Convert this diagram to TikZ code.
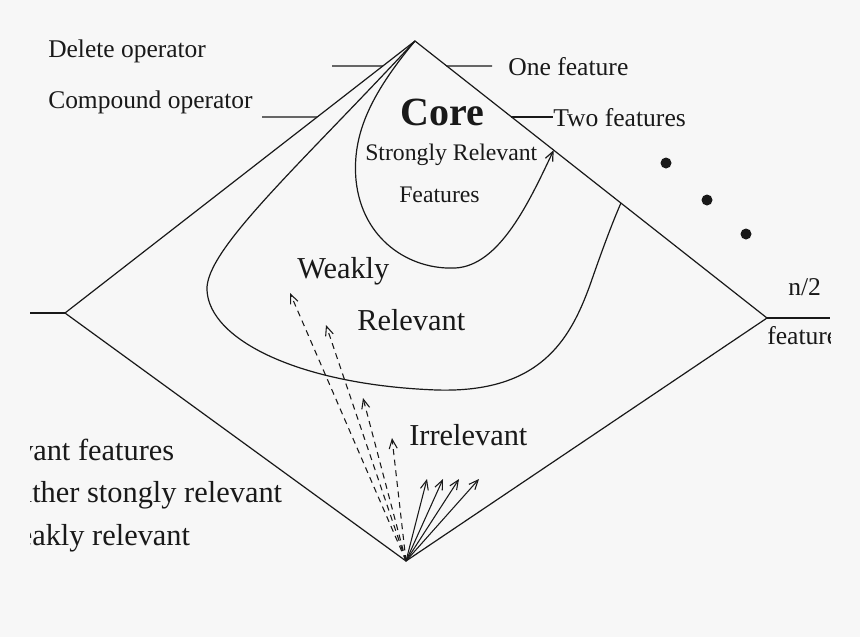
\documentclass[tikz,border=0pt]{standalone}
\usepackage{fontspec}
\setmainfont{Liberation Serif}
\usetikzlibrary{arrows.meta}
\definecolor{paper}{RGB}{247,247,247}
\definecolor{ink}{RGB}{25,25,25}

\begin{document}
\begin{tikzpicture}[x=0.75pt,y=-0.75pt,
  every node/.style={inner sep=0pt,anchor=base west,text=ink},
  edge/.style={draw=ink,line width=0.9pt},
  small/.style={font=\fontsize{19.1}{22}\selectfont},
  srl/.style={font=\fontsize{17.8}{20}\selectfont},
  mid/.style={font=\fontsize{19.2}{22}\selectfont},
  large/.style={font=\fontsize{22.8}{26}\selectfont},
  corelbl/.style={font=\fontsize{30}{33}\selectfont\bfseries},
  tip/.style={-{Straight Barb[length=7pt,width=6pt]}},
  move/.style={edge,tip,line width=0.8pt},
  weakmove/.style={move,dash pattern=on 4.5pt off 3.5pt}]
\fill[paper] (0,0) rectangle (860,637);
\useasboundingbox (0,0) rectangle (860,637);
\begin{scope}
\clip (30,0) rectangle (830,637);
% corners of the search space
\coordinate (top) at (415,41);
\coordinate (left) at (65,313);
\coordinate (bot) at (406,561);
\coordinate (right) at (767,318);
\draw[edge] (top) -- (left) -- (bot) -- (right) -- cycle;
\draw[edge] (30,313) coordinate (lstub) -- (left);
\draw[edge] (right) -- (830,318) coordinate (rstub);
% points on the edges
\path (top) -- (left) coordinate[pos=0.092] (delE) coordinate[pos=0.279] (compE);
\path (top) -- (right) coordinate[pos=0.09] (oneE) coordinate[pos=0.274] (twoE)
  coordinate[pos=0.394] (coreE) coordinate[pos=0.585] (weakE);
% labels
\node[small] (del) at (48,57) {Delete operator};
\node[small] (comp) at (48,108) {Compound operator};
\node[mid] (one) at (508,75) {One feature};
\node[mid] (two) at (553,126) {Two features};
\coordinate (delS) at (332,66);
\coordinate (compS) at (262,117);
\coordinate (oneS) at (492,66);
\coordinate (twoS) at (two.west |- twoE);
\draw[edge] (delS) -- (delE);
\draw[edge] (compS) -- (compE);
\draw[edge] (oneE) -- (oneS);
\draw[edge] (twoE) -- (twoS);
% weakly relevant region
\draw[edge] (top) .. controls (300,165) and (205,250) .. (207,290)
  .. controls (209,340) and (300,385) .. (437,390)
  .. controls (540,393) and (570,340) .. (590,285)
  .. controls (598,262) and (610,228) .. (weakE);
% core
\draw[edge,tip] (top) .. controls (370,95) and (352,135) .. (356,180)
  .. controls (362,240) and (410,270) .. (455,268)
  .. controls (500,266) and (530,200) .. (coreE);
\node[corelbl] (core) at (400,125) {Core};
\node[srl] (strong) at (365,160) {Strongly Relevant};
\node[srl] (sfeat) at (399,202) {Features};
\node[large] (weakly) at (297,278) {Weakly};
\node[large] (wrel) at (357,330) {Relevant};
\node[large] (irr) at (409,445) {Irrelevant};
% more features
\foreach \p/\q in {666/163,707/200,746/234}
  \fill[ink] (\p,\q) circle (5.5);
\node[mid] (half) at (788,295) {n/2};
\node[mid] (nfeat) at (767,344) {features};
% moves from the empty set
\foreach \p/\q in {290/293,326/325,363/398,392/438}
  \draw[weakmove] (bot) -- (\p,\q);
\foreach \p in {427,443,459,479}
  \draw[move] (bot) -- (\p,479);
% legend
\node[large] (leg1) at (33,460) {\llap{Irrelev}ant features};
\node[large] (leg2) at (32,502) {\llap{nei}ther stongly relevant};
\node[large] (leg3) at (32,545) {\llap{nor we}akly relevant};
\end{scope}
\end{tikzpicture}
\end{document}
